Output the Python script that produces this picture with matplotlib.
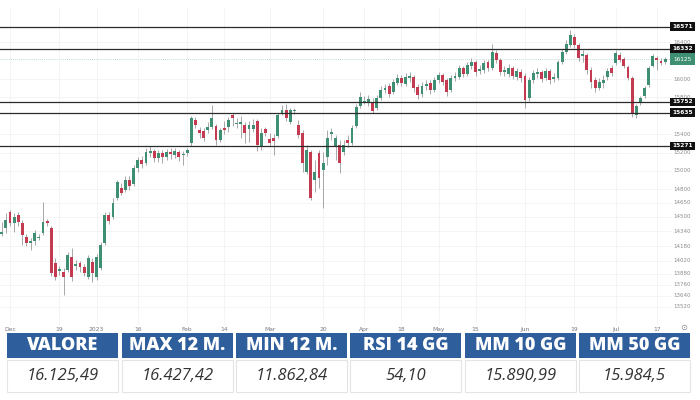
import matplotlib
matplotlib.use("Agg")
import matplotlib.pyplot as plt
import matplotlib.transforms as mtransforms
from matplotlib.patches import Rectangle
import numpy as np
import pandas as pd

# ---------------- data ----------------
start_date = "2022-11-29"
end_date = "2023-07-19"
holidays = ["2022-12-26", "2023-04-07", "2023-04-10", "2023-05-01", "2023-05-29"]

opens = [14311,14377,14551,14431,14518,14431,14279,14213,14235,14268,
         14322,14453,14377,13995,13908,13897,13919,14061,13963,13995,
         13952,13843,14006,13843,13941,14213,14518,14497,14704,14813,
         14791,14900,14856,15031,15118,15085,15194,15216,15140,15194,
         15151,15205,15173,15205,15173,15194,15303,15554,15445,15434,
         15445,15478,15489,15336,15467,15478,15609,15510,15510,15500,
         15456,15456,15543,15260,15456,15347,15358,15380,15630,15663,
         15532,15652,15500,15412,14987,15205,14900,15194,15009,15151,
         15401,15260,15282,15205,15336,15303,15489,15707,15750,15739,
         15750,15685,15794,15881,15925,15859,15957,16012,15946,16012,
         16023,15914,15837,15925,15957,15881,15990,16045,15990,15881,
         16012,16023,16121,16056,16143,16186,16088,16099,16186,16121,
         16284,16208,16077,16056,16121,16023,16077,16034,15794,15990,
         16056,16077,16012,16088,16001,16012,16186,16295,16372,16459,
         16372,16252,16262,16099,15990,15903,15957,16023,16121,16175,
         16262,16219,16132,16012,15609,15739,15816,15936,16143,16230,
         16197,16186]
closes = [14333,14464,14431,14497,14442,14301,14213,14235,14322,14279,
          14442,14431,13886,13843,13930,13843,14083,13843,13984,13952,
          13886,14050,13886,14061,14192,14518,14453,14649,14878,14758,
          14900,14835,15031,15118,15074,15205,15216,15140,15194,15151,
          15205,15183,15216,15151,15183,15227,15576,15500,15412,15358,
          15478,15576,15336,15445,15445,15554,15576,15521,15532,15412,
          15500,15500,15282,15412,15412,15303,15325,15609,15663,15576,
          15663,15663,15391,15085,15227,14704,14987,14922,15085,15358,
          15423,15358,15085,15282,15303,15467,15696,15805,15761,15783,
          15652,15794,15881,15903,15837,15968,16012,15957,16023,16034,
          15903,15827,15925,15946,15881,15990,16045,15968,15859,16012,
          16034,16121,16056,16154,16186,16077,16110,16175,16121,16295,
          16208,16077,16099,16121,16034,16088,16012,15772,15990,16066,
          16077,16001,16088,15990,16023,16186,16295,16382,16480,16372,
          16230,16273,16099,15968,15903,15968,15990,16088,16066,16284,
          16208,16143,16012,15630,15707,15794,15903,16121,16252,16208,
          16175,16219]
highs = [14442,14540,14573,14540,14551,14464,14311,14268,14355,14311,
         14660,14475,14399,14050,13963,13941,14115,14159,14028,14017,
         13984,14083,14050,14094,14224,14551,14551,14704,14900,14867,
         14944,14944,15064,15151,15162,15249,15271,15238,15227,15227,
         15238,15249,15249,15227,15216,15249,15598,15587,15478,15467,
         15532,15717,15510,15467,15543,15587,15630,15576,15598,15532,
         15543,15565,15565,15467,15478,15412,15401,15630,15717,15728,
         15685,15685,15554,15445,15282,15227,15118,15227,15205,15445,
         15467,15391,15336,15336,15391,15500,15728,15859,15816,15827,
         15794,15827,15925,15946,15957,16001,16056,16045,16066,16077,
         16045,15946,15968,15990,15990,16023,16077,16066,16012,16045,
         16077,16154,16143,16186,16230,16208,16154,16208,16208,16382,
         16317,16230,16143,16164,16143,16121,16110,16066,16023,16099,
         16121,16099,16121,16110,16066,16208,16328,16426,16535,16491,
         16393,16317,16284,16132,16023,16012,16045,16121,16154,16317,
         16295,16241,16154,16034,15728,15816,15925,16143,16273,16252,
         16230,16241]
lows = [14290,14322,14399,14333,14399,14192,14181,14137,14192,14246,
        14301,14399,13854,13810,13865,13647,13897,13799,13919,13897,
        13854,13821,13788,13810,13919,14192,14420,14475,14682,14737,
        14769,14791,14835,14987,15031,15064,15151,15096,15096,15085,
        15118,15129,15140,15107,15064,15162,15271,15467,15358,15325,
        15412,15456,15282,15314,15401,15423,15489,15467,15358,15303,
        15314,15423,15216,15227,15380,15271,15173,15358,15609,15543,
        15510,15619,15358,14987,14965,14682,14769,14813,14595,15064,
        15336,15118,14976,15173,15260,15282,15467,15685,15728,15707,
        15630,15663,15772,15848,15805,15837,15936,15925,15925,15968,
        15859,15783,15805,15881,15837,15859,15957,15936,15816,15859,
        15979,16001,16023,16034,16110,16034,16056,16066,16088,16099,
        16175,16045,16034,16023,16001,15990,15968,15685,15761,15957,
        16012,15968,15990,15946,15968,15990,16164,16273,16350,16339,
        16197,16186,16056,15903,15859,15881,15903,15990,16034,16154,
        16186,16121,15990,15587,15576,15717,15794,15914,16132,16099,
        16154,16164]

level_lines = [16571, 16332, 15752, 15635, 15271]
last_price_label = "16125"
y_tick_values = [16400, 16000, 15800, 15400, 15200, 15000, 14800, 14650,
                 14500, 14340, 14180, 14020, 13880, 13760, 13640, 13520]
x_tick_dates = ["2022-12-01", "2022-12-19", "2023-01-02", "2023-01-16",
                "2023-02-01", "2023-02-14", "2023-03-01", "2023-03-20",
                "2023-04-03", "2023-04-18", "2023-05-02", "2023-05-15",
                "2023-06-01", "2023-06-19", "2023-07-03", "2023-07-17"]
x_tick_labels = ["Dec", "19", "2023", "16", "Feb", "14", "Mar", "20",
                 "Apr", "18", "May", "15", "Jun", "19", "Jul", "17"]

table_headers = ["VALORE", "MAX 12 M.", "MIN 12 M.", "RSI 14 GG", "MM 10 GG", "MM 50 GG"]
table_values = ["16.125,49", "16.427,42", "11.862,84", "54,10", "15.890,99", "15.984,5"]

# ---------------- style ----------------
GREEN = "#3f8f72"
RED = "#c43a51"
WICK = "#9a9a9a"
HEADER_BG = "#2f5e9c"

dates = pd.bdate_range(start_date, end_date)
dates = dates[~dates.isin(pd.to_datetime(holidays))]
n = len(opens)
x = np.arange(n)
o = np.array(opens, float); c = np.array(closes, float)
h = np.array(highs, float); l = np.array(lows, float)

fig = plt.figure(figsize=(7, 4), dpi=100)
fig.patch.set_facecolor("white")
ax = fig.add_axes([0.0, 0.1875, 0.958, 0.7925])

up = c >= o
cols = np.where(up, GREEN, RED)
ax.vlines(x, l, h, color=WICK, lw=0.6, zorder=2)
body_b = np.minimum(o, c)
body_h = np.maximum(np.abs(c - o), 8)
ax.bar(x, body_h, bottom=body_b, width=0.7, color=cols, lw=0, zorder=3)

ax.set_xlim(-0.43, 162.33)
ax.set_ylim(13320, 16775)

tick_pos = [dates.get_loc(pd.Timestamp(d)) for d in x_tick_dates]
ax.set_xticks(tick_pos)
ax.set_xticklabels(x_tick_labels, fontsize=4.3, color="#777777")
ax.set_yticks(y_tick_values)
ax.tick_params(axis="x", length=0, pad=1.5)
ax.tick_params(axis="y", left=False, labelleft=False)
ax.grid(True, color="#f2f2f2", lw=0.6, zorder=0)
for s in ax.spines.values():
    s.set_visible(False)

for v in level_lines:
    ax.axhline(v, color="#2b2b2b", lw=0.9, zorder=4)

# last price dotted line
ax.axhline(c[-1], color="#a9cfc0", lw=0.6, ls=(0, (1, 1.5)), zorder=1)

trans = mtransforms.blended_transform_factory(fig.transFigure, ax.transData)
for v in y_tick_values:
    ax.text(0.975, v, str(v), transform=trans, ha="center", va="center",
            fontsize=4, color="#8c8c8c", clip_on=False, zorder=5)
for v in level_lines:
    ax.text(0.975, v, str(v), transform=trans, ha="center", va="center",
            fontsize=4.2, color="white", fontweight="bold", clip_on=False, zorder=7,
            bbox=dict(boxstyle="square,pad=0.3", fc="#111111", ec="none"))
ax.text(0.975, c[-1], last_price_label, transform=trans, ha="center", va="center",
        fontsize=4.2, color="white", clip_on=False, zorder=7,
        bbox=dict(boxstyle="square,pad=0.55", fc=GREEN, ec="none"))

fig.text(684 / 700, 1 - 327 / 400, "⊙", fontsize=6, color="#888888",
         ha="center", va="center")

# ---------------- table ----------------
col_left_px = [7, 122, 236, 350, 465, 579]
col_w_px = 111
for left, head, val in zip(col_left_px, table_headers, table_values):
    x0 = left / 700
    w = col_w_px / 700
    fig.patches.append(Rectangle((x0, 1 - 358 / 400), w, 25 / 400,
                                 transform=fig.transFigure, fc=HEADER_BG, ec="none"))
    fig.patches.append(Rectangle((x0, 1 - 392 / 400), w, 32 / 400,
                                 transform=fig.transFigure, fc="white", ec="#e4e4e4", lw=0.8))
    fig.text(x0 + w / 2, 1 - 346 / 400, head, ha="center", va="center",
             fontsize=13, color="white", fontweight="heavy", family="Open Sans")
    fig.text(x0 + w / 2, 1 - 376 / 400, val, ha="center", va="center",
             fontsize=12, color="#333333", style="italic", family="Open Sans")

fig.savefig("out.png", dpi=100, facecolor="white")
